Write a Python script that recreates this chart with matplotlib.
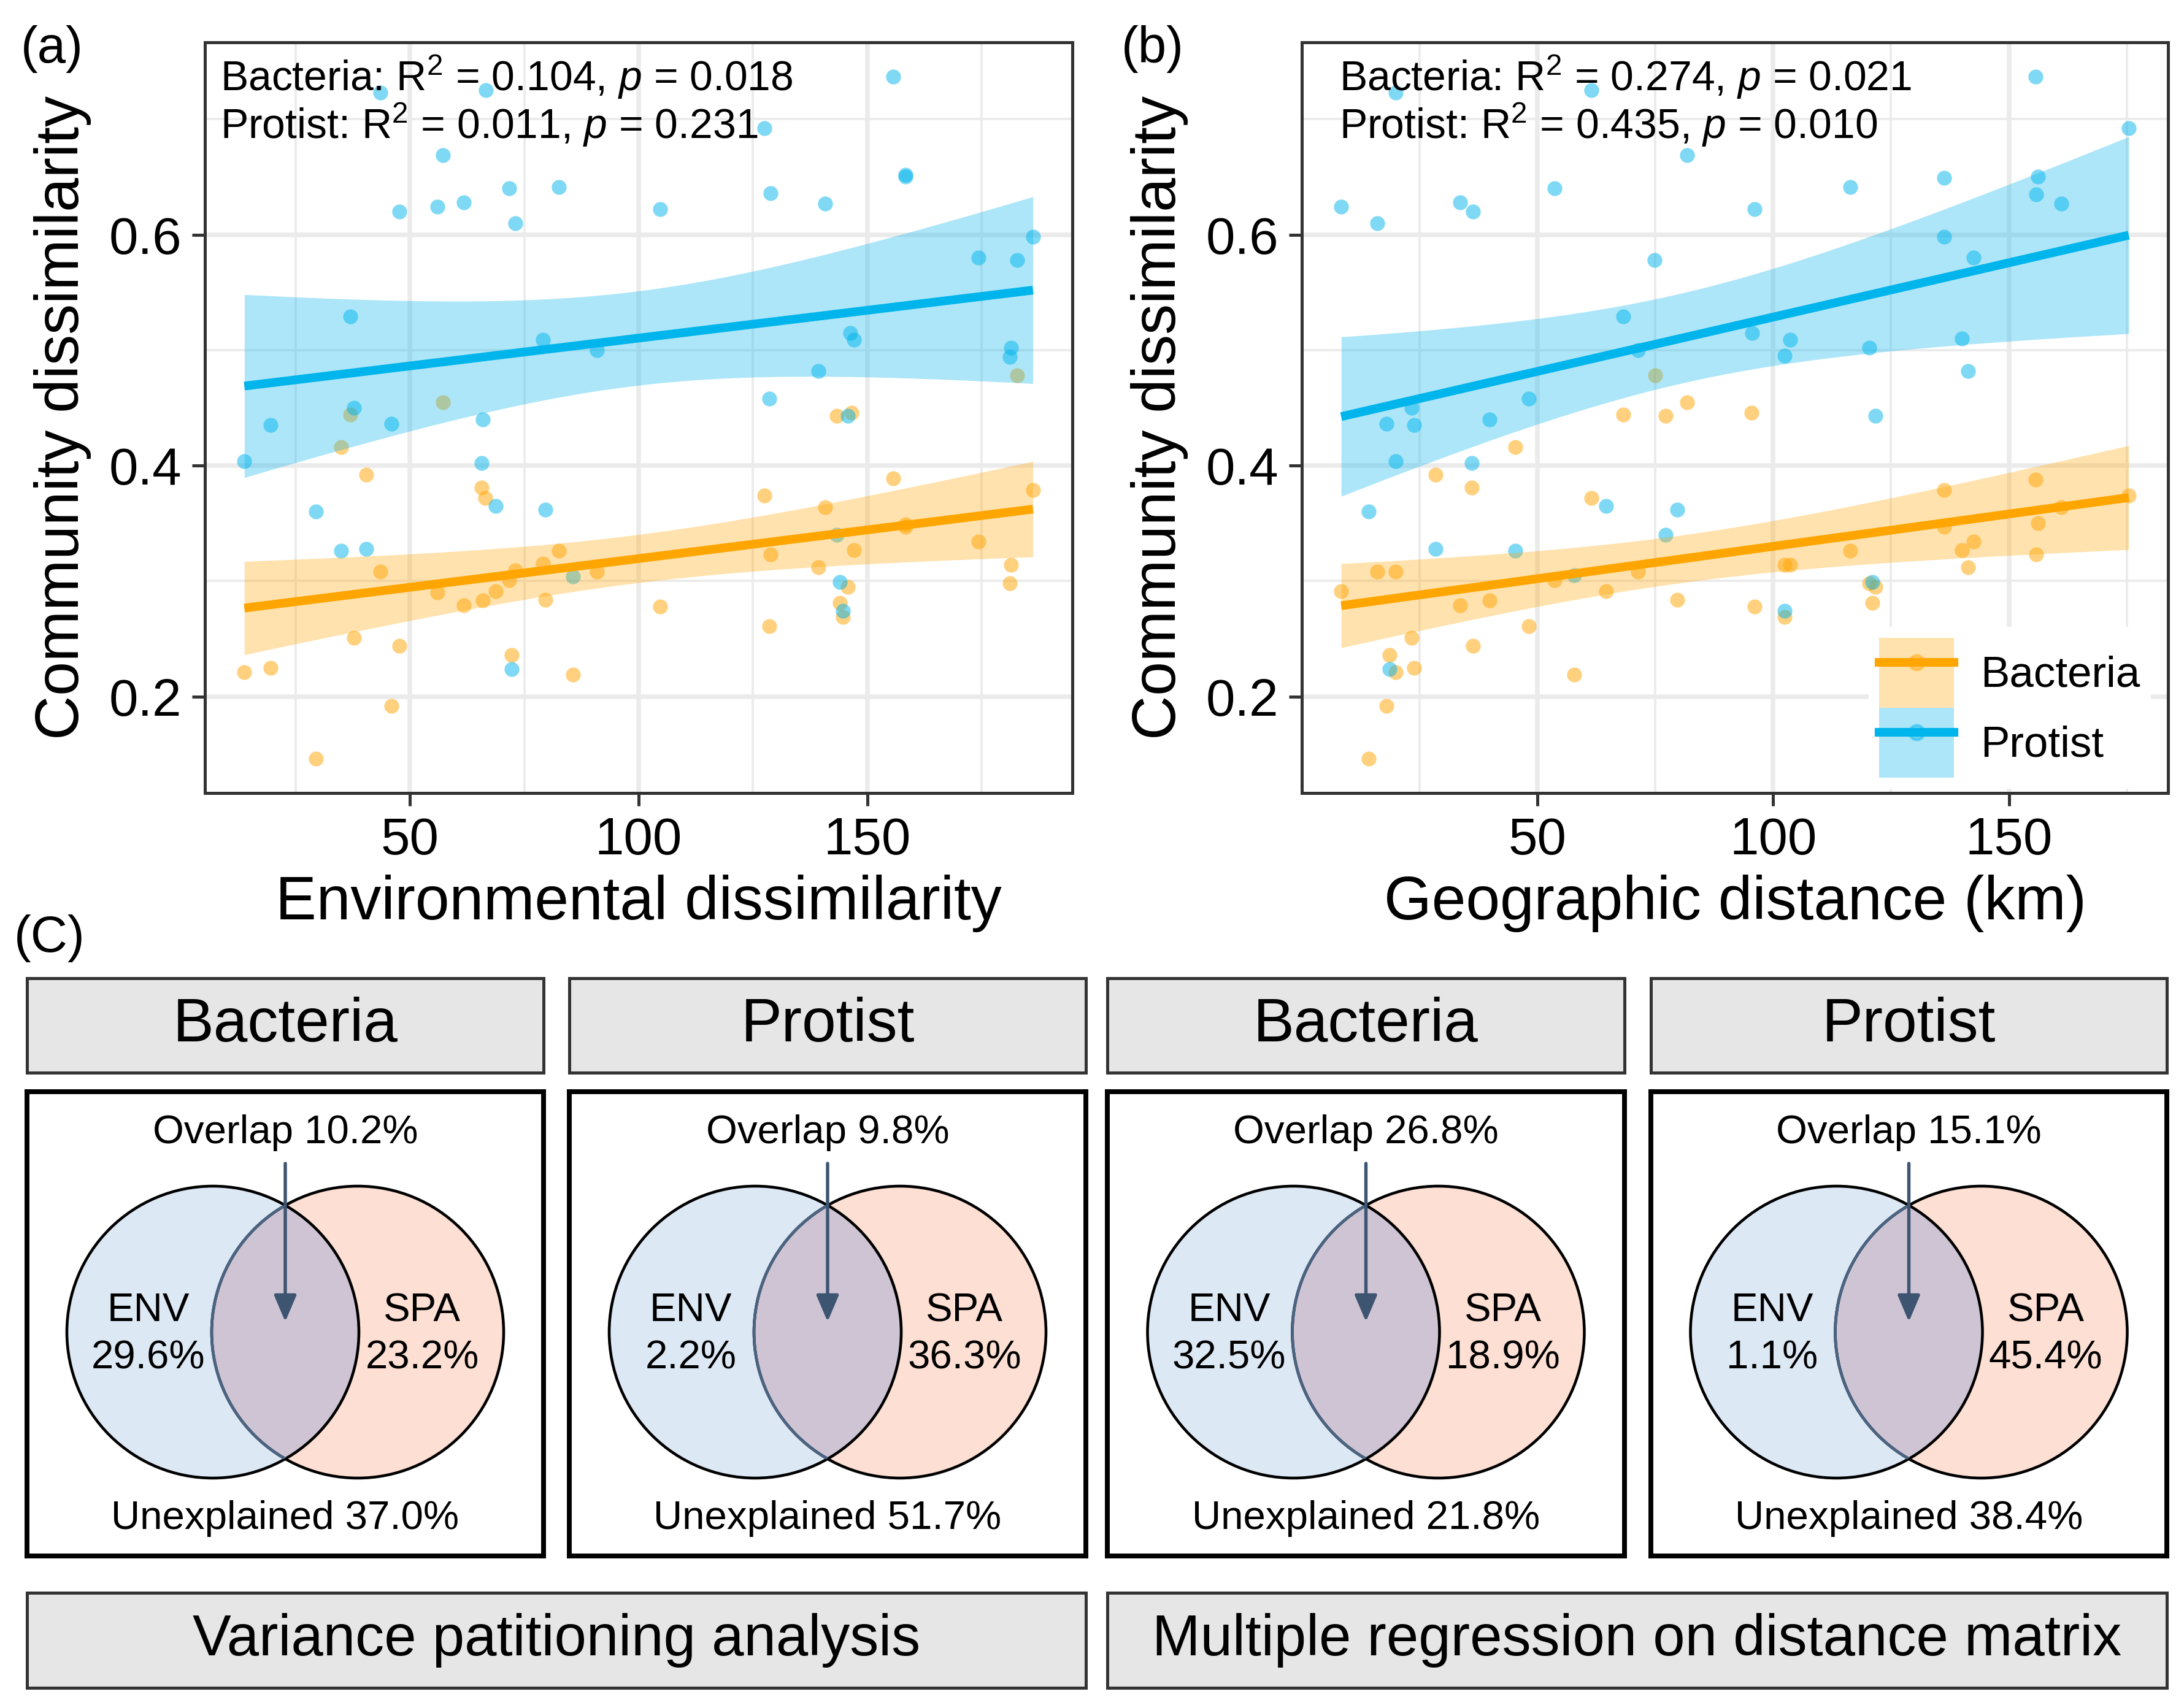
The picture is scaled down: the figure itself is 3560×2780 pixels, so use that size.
import numpy as np
import matplotlib.pyplot as plt
from matplotlib.patches import Circle, Patch
from matplotlib.lines import Line2D

plt.rcParams['font.family'] = ['Liberation Sans', 'DejaVu Sans']
plt.rcParams['mathtext.fontset'] = 'custom'
plt.rcParams['mathtext.rm'] = 'Liberation Sans'
plt.rcParams['mathtext.it'] = 'Liberation Sans:italic'

# ---- panel (a): community dissimilarity vs environmental dissimilarity
bac_env_x = [57.2, 37.0, 182.8, 143.3, 146.5, 34.9, 40.5, 65.7, 66.5, 155.6, 127.5, 186.2, 140.8, 158.4, 158.4,
             174.3, 128.8, 147.1, 82.5, 43.6, 73.0, 79.1, 71.7, 90.9, 139.3, 181.4, 181.1, 145.7, 56.0, 68.8,
             61.8, 66.0, 79.6, 104.7, 144.0, 144.7, 128.6, 37.8, 47.7, 72.3, 13.8, 19.5, 85.6, 45.9, 29.4]
bac_env_y = [0.455, 0.444, 0.478, 0.443, 0.446, 0.416, 0.392, 0.381, 0.372, 0.389, 0.374, 0.379, 0.364, 0.349, 0.347,
             0.334, 0.323, 0.327, 0.326, 0.308, 0.309, 0.315, 0.301, 0.308, 0.312, 0.314, 0.298, 0.295, 0.290, 0.291,
             0.279, 0.283, 0.284, 0.278, 0.281, 0.269, 0.261, 0.251, 0.244, 0.236, 0.221, 0.225, 0.219, 0.192, 0.146]
pro_env_x = [43.6, 66.6, 155.6, 127.5, 57.2, 158.4, 158.4, 71.7, 82.5, 128.8, 47.7, 56.0, 61.8, 104.7, 140.8,
             73.0, 186.2, 174.3, 182.8, 37.0, 79.1, 90.9, 146.3, 147.1, 181.4, 181.1, 139.3, 128.6, 37.8, 19.5,
             45.9, 66.0, 145.7, 13.8, 65.7, 29.4, 68.8, 79.6, 34.9, 40.5, 143.3, 144.0, 85.6, 144.7, 72.3]
pro_env_y = [0.723, 0.725, 0.737, 0.692, 0.669, 0.650, 0.652, 0.640, 0.641, 0.636, 0.620, 0.624, 0.628, 0.622, 0.627,
             0.610, 0.598, 0.580, 0.578, 0.529, 0.509, 0.500, 0.515, 0.509, 0.502, 0.494, 0.482, 0.458, 0.450, 0.435,
             0.436, 0.440, 0.443, 0.404, 0.402, 0.360, 0.365, 0.362, 0.326, 0.328, 0.340, 0.299, 0.304, 0.274, 0.224]

# ---- panel (b): community dissimilarity vs geographic distance
bac_geo_x = [75.0, 68.2, 77.2, 81.7, 95.4, 45.3, 28.4, 36.1, 61.4, 155.6, 136.2, 175.4, 161.1, 156.2, 136.2,
             142.5, 140.1, 116.3, 155.8, 16.1, 20.0, 102.5, 103.6, 141.4, 71.4, 53.6, 8.4, 120.4, 121.7, 64.6,
             33.6, 39.8, 79.7, 96.0, 121.0, 102.5, 48.2, 23.4, 36.4, 18.6, 20.0, 23.8, 57.8, 18.0, 14.2]
bac_geo_y = [0.478, 0.444, 0.443, 0.455, 0.446, 0.416, 0.392, 0.381, 0.372, 0.388, 0.379, 0.374, 0.364, 0.350, 0.347,
             0.334, 0.327, 0.326, 0.323, 0.308, 0.308, 0.314, 0.314, 0.312, 0.308, 0.301, 0.291, 0.298, 0.295, 0.291,
             0.279, 0.283, 0.284, 0.278, 0.281, 0.269, 0.261, 0.251, 0.244, 0.236, 0.221, 0.225, 0.219, 0.192, 0.146]
pro_geo_x = [20.0, 61.4, 155.6, 175.4, 81.7, 156.2, 136.2, 53.6, 116.3, 8.4, 33.6, 36.4, 96.0, 155.8, 161.1,
             16.1, 136.2, 74.9, 142.5, 68.2, 71.4, 95.6, 103.6, 102.5, 120.4, 140.1, 141.4, 48.2, 23.4, 18.0,
             23.8, 39.8, 121.7, 20.0, 36.1, 14.2, 64.6, 79.7, 28.4, 45.3, 77.2, 121.0, 57.8, 102.5, 18.6]
pro_geo_y = [0.723, 0.725, 0.737, 0.692, 0.669, 0.650, 0.649, 0.640, 0.641, 0.624, 0.628, 0.620, 0.622, 0.635, 0.627,
             0.610, 0.598, 0.578, 0.580, 0.529, 0.500, 0.515, 0.509, 0.495, 0.502, 0.510, 0.482, 0.458, 0.450, 0.436,
             0.435, 0.440, 0.443, 0.404, 0.402, 0.360, 0.365, 0.362, 0.328, 0.326, 0.340, 0.299, 0.305, 0.274, 0.224]

r2_bac = [0.104, 0.274]
p_bac = [0.018, 0.021]
r2_pro = [0.011, 0.435]
p_pro = [0.231, 0.010]

# ---- panel (C): variance partitioning / MRM
venn_titles = ["Bacteria", "Protist", "Bacteria", "Protist"]
env_pct = [29.6, 2.2, 32.5, 1.1]
spa_pct = [23.2, 36.3, 18.9, 45.4]
overlap_pct = [10.2, 9.8, 26.8, 15.1]
unexplained_pct = [37.0, 51.7, 21.8, 38.4]
method_titles = ["Variance patitioning analysis", "Multiple regression on distance matrix"]

ORANGE = "#FFA500"
BLUE = "#00B4EC"
W, H = 3561, 2780

fig = plt.figure(figsize=(W / 300, H / 300), dpi=300)


def px_axes(x0, y0, x1, y1):
    return fig.add_axes([x0 / W, 1 - y1 / H, (x1 - x0) / W, (y1 - y0) / H])


def lm_band(x, y, xs):
    x = np.asarray(x)
    y = np.asarray(y)
    n = len(x)
    b, a = np.polyfit(x, y, 1)
    s = np.sqrt(np.sum((y - (a + b * x)) ** 2) / (n - 2))
    se = s * np.sqrt(1 / n + (xs - x.mean()) ** 2 / np.sum((x - x.mean()) ** 2))
    fit = a + b * xs
    t = 2.0167  # t(0.975, df=43)
    return fit, fit - t * se, fit + t * se


def scatter_panel(box, bx, by, px, py, xlabel, k, tag, tag_x, text_x):
    ax = px_axes(*box)
    ax.scatter(bx, by, s=34, color=ORANGE, alpha=0.5, lw=0, zorder=2)
    ax.scatter(px, py, s=34, color=BLUE, alpha=0.5, lw=0, zorder=2)
    for x, y, c in ((bx, by, ORANGE), (px, py, BLUE)):
        xs = np.linspace(min(x), max(x), 100)
        fit, lo, hi = lm_band(x, y, xs)
        ax.fill_between(xs, lo, hi, color=c, alpha=0.32, lw=0, zorder=3)
        ax.plot(xs, fit, color=c, lw=3.4, zorder=4, solid_capstyle='butt')

    allx = list(bx) + list(px)
    ally = list(by) + list(py)
    dx = (max(allx) - min(allx)) * 0.05
    dy = (max(ally) - min(ally)) * 0.05
    ax.set_xlim(min(allx) - dx, max(allx) + dx)
    ax.set_ylim(min(ally) - dy, max(ally) + dy)
    ax.set_xticks([50, 100, 150])
    ax.set_xticks([25, 75, 125, 175], minor=True)
    ax.set_yticks([0.2, 0.4, 0.6])
    ax.set_yticks([0.3, 0.5, 0.7], minor=True)
    ax.grid(which='major', color='#EBEBEB', lw=1.8, zorder=0)
    ax.grid(which='minor', color='#EBEBEB', lw=0.9, zorder=0)
    ax.set_axisbelow(True)
    ax.tick_params(which='major', length=5, width=1.2, color='#333333', labelsize=20.5, pad=4)
    ax.tick_params(which='minor', length=0)
    for sp in ax.spines.values():
        sp.set_color('#333333')
        sp.set_linewidth(1.2)

    ax.set_xlabel(xlabel, fontsize=24, ha='center', va='center')
    ax.set_ylabel("Community dissimilarity", fontsize=24, ha='center', va='center')
    ax.xaxis.set_label_coords(0.5, -0.147)
    ax.yaxis.set_label_coords(-0.164, 0.5)

    ax.text(text_x, 0.954, "Bacteria: R$^2$ = %.3f, $p$ = %.3f" % (r2_bac[k], p_bac[k]),
            transform=ax.transAxes, fontsize=16.3, va='center', ha='left', zorder=6)
    ax.text(text_x, 0.890, "Protist: R$^2$ = %.3f, $p$ = %.3f" % (r2_pro[k], p_pro[k]),
            transform=ax.transAxes, fontsize=16.3, va='center', ha='left', zorder=6)
    fig.text(tag_x / W, 1 - 80 / H, tag, fontsize=20, ha='left', va='center')
    return ax


scatter_panel((334, 69, 1748, 1293), bac_env_x, bac_env_y, pro_env_x, pro_env_y,
              "Environmental dissimilarity", 0, "(a)", 34, 0.018)
axb = scatter_panel((2122, 69, 3534, 1293), bac_geo_x, bac_geo_y, pro_geo_x, pro_geo_y,
                    "Geographic distance (km)", 1, "(b)", 1828, 0.043)

handles = []
for c in (ORANGE, BLUE):
    handles.append((Patch(facecolor=c, alpha=0.32, lw=0),
                    Line2D([], [], color=c, lw=3.4),
                    Line2D([], [], color=c, marker='o', ms=5.8, alpha=0.4, lw=0)))
leg = axb.legend(handles, ["Bacteria", "Protist"], loc='lower right', bbox_to_anchor=(0.985, 0.0),
                 fontsize=17, handlelength=1.72, handleheight=2.1, labelspacing=0, handletextpad=0.6,
                 borderpad=0.25, borderaxespad=0.1, frameon=True, fancybox=False)
leg.get_frame().set_facecolor('white')
leg.get_frame().set_edgecolor('none')
leg.get_frame().set_alpha(1)

# ---- panel (C)
fig.text(23 / W, 1 - 1530 / H, "(C)", fontsize=20, ha='left', va='center')

cols = [(44, 886), (928, 1770), (1805, 2648), (2691, 3532)]


def strip(x0, y0, x1, y1, label, size):
    ax = px_axes(x0, y0, x1, y1)
    ax.set_facecolor('#E6E6E6')
    ax.set_xticks([])
    ax.set_yticks([])
    for sp in ax.spines.values():
        sp.set_color('#333333')
        sp.set_linewidth(1.2)
    ax.text(0.5, 0.5, label, transform=ax.transAxes, fontsize=size, ha='center', va='center')


for i, (x0, x1) in enumerate(cols):
    strip(x0, 1595, x1, 1749, venn_titles[i], 24)

    ax = px_axes(x0, 1780, x1, 2537)
    w, h = x1 - x0, 2537 - 1780
    ax.set_xlim(0, w)
    ax.set_ylim(h, 0)
    ax.set_xticks([])
    ax.set_yticks([])
    for sp in ax.spines.values():
        sp.set_color('black')
        sp.set_linewidth(1.9)
    cx, cy, r = w / 2, 392, 238
    left = Circle((cx - 118, cy), r, facecolor='#DDE8F5', edgecolor='none', zorder=1)
    right = Circle((cx + 118, cy), r, facecolor='#FDDFD3', edgecolor='none', zorder=1)
    ax.add_patch(left)
    ax.add_patch(right)
    lens = Circle((cx + 118, cy), r, facecolor='#CFC4D4', edgecolor='none', zorder=2)
    ax.add_patch(lens)
    lens.set_clip_path(left)
    ax.add_patch(Circle((cx - 118, cy), r, facecolor='none', edgecolor='black', lw=1.1, zorder=3))
    ax.add_patch(Circle((cx + 118, cy), r, facecolor='none', edgecolor='black', lw=1.1, zorder=3))
    inner = Circle((cx + 118, cy), r, facecolor='none', edgecolor='#4A6482', lw=1.1, zorder=4)
    ax.add_patch(inner)
    inner.set_clip_path(Circle((cx - 118, cy), r - 1, transform=ax.transData))

    ax.annotate('', xy=(cx, 375), xytext=(cx, 117),
                arrowprops=dict(arrowstyle='-|>,head_length=0.4,head_width=0.17', color='#3E5571',
                                lw=1.3, mutation_scale=22, shrinkA=0, shrinkB=0), zorder=5)
    ax.text(cx, 67, "Overlap %.1f%%" % overlap_pct[i], fontsize=15.7, ha='center', va='center')
    ax.text(cx - 223, cy + 4, "ENV\n%.1f%%" % env_pct[i], fontsize=15.7, ha='center', va='center',
            linespacing=1.38, zorder=6)
    ax.text(cx + 223, cy + 4, "SPA\n%.1f%%" % spa_pct[i], fontsize=15.7, ha='center', va='center',
            linespacing=1.38, zorder=6)
    ax.text(cx, 696, "Unexplained %.1f%%" % unexplained_pct[i], fontsize=15.7, ha='center', va='center')

strip(44, 2597, 1770, 2752, method_titles[0], 22.6)
strip(1805, 2597, 3532, 2752, method_titles[1], 22.6)

fig.savefig("out.png", dpi=300)
